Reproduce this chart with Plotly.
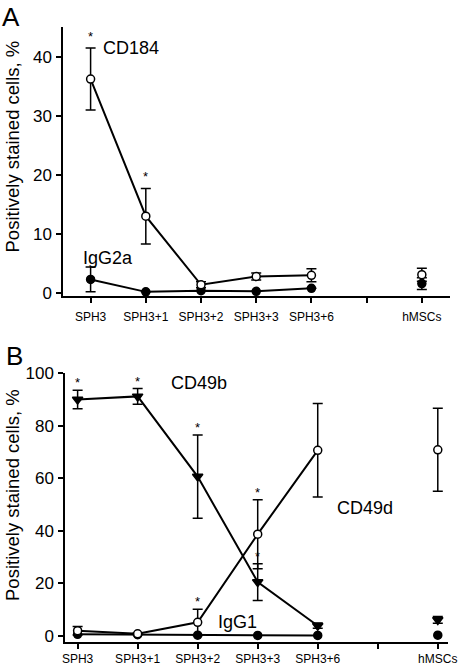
import plotly.graph_objects as go

FONT = "Liberation Sans, Arial, sans-serif"

# ---------------- data ----------------
categories = ["SPH3", "SPH3+1", "SPH3+2", "SPH3+3", "SPH3+6", "", "hMSCs"]
xpos = list(range(len(categories)))

# Panel A
cd184 = [36.2, 13.0, 1.4, 2.8, 3.0, None, 3.1]
cd184_err = [5.25, 4.7, 0.5, 0.6, 1.1, None, 1.1]
cd184_sig = [True, True, False, False, False, False, False]
igg2a = [2.3, 0.2, 0.4, 0.3, 0.8, None, 1.6]
igg2a_err = [2.1, None, None, None, None, None, 1.0]

# Panel B
cd49b = [89.9, 91.1, 60.6, 20.5, 3.9, None, 6.1]
cd49b_err = [3.5, 3.0, 15.8, 7.0, 1.0, None, 1.3]
cd49b_sig = [True, True, True, True, False, False, False]
cd49d = [2.0, 0.8, 5.2, 38.7, 70.6, None, 70.8]
cd49d_err = [1.6, 0.3, 5.0, 13.1, 17.8, None, 15.8]
cd49d_sig = [False, False, True, True, False, False, False]
igg1 = [0.6, 0.5, 0.3, 0.2, 0.2, None, 0.3]

fig = go.Figure()

def add_series(y, err, symbol, fill, xa, ya, size=8):
    fig.add_trace(go.Scatter(
        x=xpos, y=y, xaxis=xa, yaxis=ya, mode="lines+markers",
        connectgaps=False,
        line=dict(color="black", width=2),
        marker=dict(symbol=symbol, size=size, color=fill,
                    line=dict(color="black", width=1.5)),
        error_y=dict(type="data", array=err, symmetric=True,
                     color="black", thickness=1.5, width=5, visible=True),
        showlegend=False, hoverinfo="skip"))

# Panel A
add_series(igg2a, igg2a_err, "circle", "black", "x", "y")
add_series(cd184, cd184_err, "circle", "white", "x", "y")
# Panel B
add_series(igg1, None, "circle", "black", "x2", "y2")
add_series(cd49b, cd49b_err, "triangle-down", "black", "x2", "y2", size=9)
add_series(cd49d, cd49d_err, "circle", "white", "x2", "y2")

annotations = []

def add_stars(vals, errs, sigs, xr, yr, shift):
    for i, (v, e, s) in enumerate(zip(vals, errs, sigs)):
        if s and v is not None:
            annotations.append(dict(
                x=xpos[i], y=v + (e or 0), xref=xr, yref=yr, text="*",
                showarrow=False, xanchor="center", yanchor="bottom",
                yshift=shift,
                font=dict(family=FONT, size=13, color="black")))

add_stars(cd184, cd184_err, cd184_sig, "x", "y", 2)
add_stars(cd49b, cd49b_err, cd49b_sig, "x2", "y2", -2)
add_stars(cd49d, cd49d_err, cd49d_sig, "x2", "y2", -2)

labels = [
    ("CD184", 0.73, 41.4, "x", "y"),
    ("IgG2a", 0.31, 5.9, "x", "y"),
    ("CD49b", 2.02, 96.3, "x2", "y2"),
    ("CD49d", 4.79, 48.7, "x2", "y2"),
    ("IgG1", 2.66, 5.3, "x2", "y2"),
]
for t, lx, ly, xr, yr in labels:
    annotations.append(dict(x=lx, y=ly, xref=xr, yref=yr, text=t,
                            showarrow=False, xanchor="center", yanchor="middle",
                            font=dict(family=FONT, size=18, color="black")))

ytitle = "Positively stained cells, %"
for ty in (1 - 146.5 / 666, 1 - 495 / 666):
    annotations.append(dict(x=12 / 458, y=ty, xref="paper", yref="paper",
                            text=ytitle, textangle=-90, showarrow=False,
                            xanchor="center", yanchor="middle",
                            font=dict(family=FONT, size=18.5, color="black")))

for t, px, py in (("A", 11, 17), ("B", 14, 356)):
    annotations.append(dict(x=px / 458, y=1 - py / 666, xref="paper",
                            yref="paper", text=t, showarrow=False,
                            xanchor="center", yanchor="middle",
                            font=dict(family=FONT, size=26, color="black")))

xcommon = dict(tickmode="array", tickvals=xpos, ticktext=categories,
               showline=True, linecolor="black", linewidth=1.5,
               ticks="outside", ticklen=5, tickwidth=1.5, tickcolor="black",
               showgrid=False, zeroline=False, automargin=False,
               tickfont=dict(family=FONT, size=12, color="black"))
ycommon = dict(showline=True, linecolor="black", linewidth=1.5,
               ticks="outside", ticklen=5, tickwidth=1.5, tickcolor="black",
               showgrid=False, zeroline=False, automargin=False,
               tickfont=dict(family=FONT, size=17, color="black"))

fig.update_layout(
    template="none",
    width=458, height=666,
    margin=dict(l=0, r=0, t=0, b=0, autoexpand=False),
    paper_bgcolor="white", plot_bgcolor="white",
    xaxis=dict(domain=[63 / 458, 450 / 458], range=[-0.5, 6.51],
               anchor="y", ticklabelstandoff=4, **xcommon),
    yaxis=dict(domain=[1 - 296 / 666, 1 - 27 / 666], range=[-0.5, 45],
               anchor="x", tickvals=[0, 10, 20, 30, 40],
               ticklabelstandoff=1, **ycommon),
    xaxis2=dict(domain=[65 / 458, 448 / 458], range=[-0.21, 6.17],
                anchor="y2", ticklabelstandoff=0, **xcommon),
    yaxis2=dict(domain=[1 - 642 / 666, 1 - 373 / 666], range=[-2.3, 100],
                anchor="x2", tickvals=[0, 20, 40, 60, 80, 100],
                ticklabelstandoff=1, **ycommon),
    annotations=annotations,
)

fig.write_html("out.html",
               config={"displayModeBar": False},
               post_script="document.body.style.margin='0px';"
                           "document.body.style.overflow='hidden';")
